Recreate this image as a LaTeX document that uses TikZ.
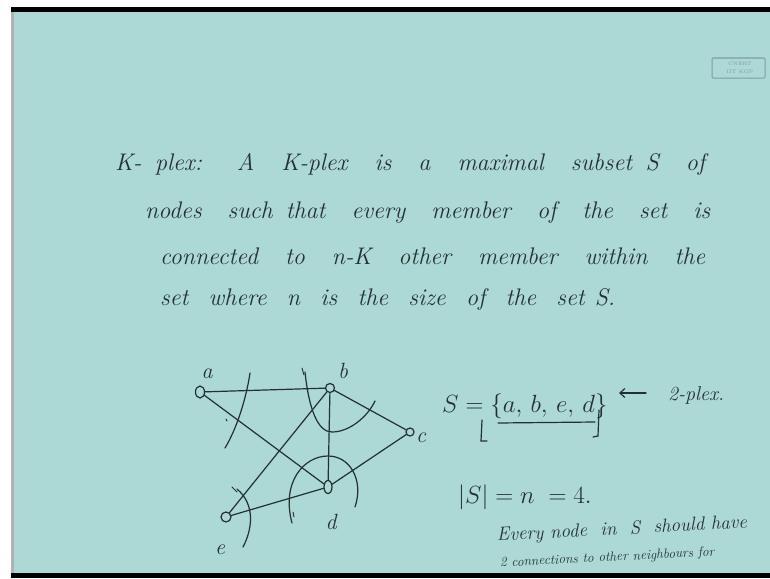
\documentclass[tikz,border=0pt]{standalone}
\usetikzlibrary{arrows.meta,shapes.geometric}
\definecolor{bg}{HTML}{ACD8D6}
\definecolor{ink}{HTML}{24302F}
\definecolor{logo}{HTML}{7F9CA6}
\begin{document}
\begin{tikzpicture}[x=1pt,y=-1pt,
  vert/.style={circle,draw=ink,line width=1.2pt,inner sep=0pt,minimum size=10pt,fill=bg},
  lab/.style={font=\fontsize{22}{22}\selectfont\itshape,text=ink,inner sep=0pt},
  hand/.style={font=\fontsize{24}{28}\selectfont\itshape,text=ink,inner sep=0pt,anchor=base west},
  stroke/.style={draw=ink,line width=1.2pt,line cap=round},
  thin/.style={draw=ink,line width=0.9pt,line cap=round}]
\useasboundingbox (0,0) rectangle (770,578);
\clip (0,0) rectangle (770,578);
% frame
\fill[white] (0,0) rectangle (770,578);
\fill[bg] (11,12) rectangle (770,573);
\fill[black] (11,7) rectangle (770,12);
\fill[black] (11,573) rectangle (770,578);
\fill[gray!60] (11,12) rectangle (14,573);
% logo box
\draw[logo,line width=1pt,rounded corners=1pt] (712,58) rectangle (765,78);
\node[font=\fontsize{5}{5}\selectfont,text=logo,inner sep=0pt] (logo1) at (740,64) {CNERT};
\node[font=\fontsize{5}{5}\selectfont,text=logo,inner sep=0pt] (logo2) at (740,72) {IIT KGP};
% definition text
\node[hand] (l1) at (115,170) {\makebox[590pt][s]{K- plex: \ A \ K-plex \ is \ a \ maximal \ subset S \ of}};
\node[hand] (l2) at (145,218) {\makebox[565pt][s]{nodes \ such that \ every \ member \ of \ the \ set \ is}};
\node[hand] (l3) at (160,264) {\makebox[545pt][s]{connected \ to \ n-K \ other \ member \ within \ the}};
\node[hand] (l4) at (160,305) {\makebox[455pt][s]{set \ where \ n \ is \ the \ size \ of \ the \ set S.}};
% graph
\node[vert,ellipse,minimum width=9pt,minimum height=12pt] (a) at (200,392) {};
\node[vert,minimum size=9pt] (b) at (330,388) {};
\node[vert,minimum size=8pt] (c) at (410,432) {};
\node[vert,ellipse,minimum width=8pt,minimum height=13pt] (d) at (328,487) {};
\node[vert,minimum size=10pt] (e) at (226,517) {};
\node[lab] (la) at (207,374) {a};
\node[lab] (lb) at (343,371) {b};
\node[lab] (lc) at (421,438) {c};
\node[lab] (ld) at (331,522) {d};
\node[lab] (le) at (220,550) {e};
\draw[stroke] (a) -- (b);
\draw[stroke] (a) -- (d);
\draw[stroke] (b) -- (e);
\draw[stroke] (b) -- (d);
\draw[stroke] (b) -- (c);
\draw[stroke] (c) -- (d);
\draw[stroke] (e) -- (d);
% arcs
\draw[stroke] (250,373) .. controls (246,400) and (236,430) .. (225,448);
\draw[stroke] (305,372) .. controls (309,410) and (318,432) .. (332,432) .. controls (350,432) and (368,416) .. (375,401);
\draw[stroke] (292,523) .. controls (281,482) and (304,456) .. (328,456) .. controls (350,456) and (364,480) .. (355,507);
\draw[stroke] (237,489) .. controls (256,505) and (252,530) .. (243,547);
% small ticks
\draw[thin] (302,368) -- (304,375);
\draw[thin] (226,419) -- (227,421);
\draw[thin] (293,512) -- (294,517);
\draw[thin] (232,487) -- (237,492);
% set definition
\node[font=\fontsize{25}{25}\selectfont,text=ink,inner sep=0pt,anchor=base west] (set) at (442,412) {$S=\{a,\,b,\,e,\,d\}$};
\draw[stroke] (482,420) -- (481,441) -- (487,441);
\draw[stroke] (498,423) -- (595,422);
\draw[stroke] (599,410) -- (598,436) -- (593,437);
\node[hand,font=\fontsize{20}{20}\selectfont\itshape] (plex) at (668,400) {2-plex.};
\coordinate (arrtail) at (646,393);
\coordinate (arrhead) at (619,393);
\draw[stroke,-{Straight Barb[length=5pt,width=9pt]}] (arrtail) -- (arrhead);
\node[font=\fontsize{33}{33}\selectfont,text=ink,inner sep=0pt,anchor=base west] (size) at (458,503) {$|S| = n \;= 4.$};
% note
\node[font=\fontsize{19}{19}\selectfont\itshape,text=ink,inner sep=0pt,anchor=base west,rotate=3] (n1) at (497,541) {Every node \ in \ S \ should have};
\node[font=\fontsize{13.5}{13.5}\selectfont\itshape,text=ink,inner sep=0pt,anchor=base west,rotate=3] (n2) at (500,567) {2 connections to other neighbours for};
\end{tikzpicture}
\end{document}
